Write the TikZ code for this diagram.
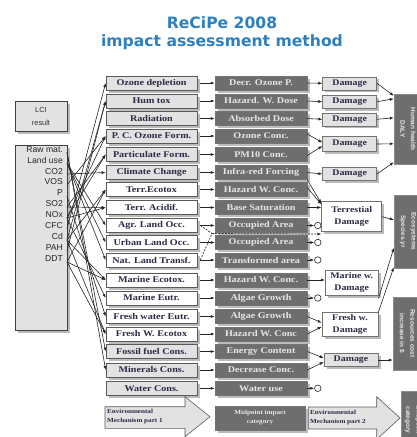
\documentclass[tikz,border=0pt]{standalone}
\usepackage{fontspec}
\setmainfont{Liberation Serif}
\setsansfont{Liberation Sans}
\newfontfamily\titlefont{DejaVu Sans}
\newfontfamily\catfont[FakeStretch=1.15]{Liberation Serif}
\usetikzlibrary{arrows.meta,shadows,calc}
\definecolor{catink}{HTML}{2C2A44}
\definecolor{midfill}{HTML}{6E6E6E}
\definecolor{midink}{HTML}{E6E6E6}
\definecolor{lightfill}{HTML}{E2E2E2}
\definecolor{titleblue}{HTML}{2E7FC2}
\definecolor{shade}{HTML}{BBBBBB}
\begin{document}
\begin{tikzpicture}[x=1pt,y=-1pt,
  arr/.style={-{Latex[length=4pt,width=3pt]}, line width=0.6pt, draw=black!85},
  shad/.style={drop shadow={shadow xshift=2.5pt, shadow yshift=-2.5pt, fill=shade, opacity=1}},
  catbox/.style={shad, draw=black!65, line width=0.7pt, minimum width=91pt, minimum height=14pt, inner sep=0pt,
    font=\catfont\bfseries\fontsize{8.8}{10}\selectfont, text=catink},
  greycat/.style={catbox, fill=lightfill},
  whitecat/.style={catbox, fill=white},
  midbox/.style={shad, draw=black!55, fill=midfill, line width=0.5pt, minimum width=92pt, minimum height=14pt, inner sep=0pt,
    font=\catfont\bfseries\fontsize{8.8}{10}\selectfont, text=midink},
  dambox/.style={shad, draw=black!55, line width=0.6pt, inner sep=0pt, align=center,
    font=\catfont\bfseries\fontsize{8.6}{11.5}\selectfont, text=catink},
  endbox/.style={draw=black!45, fill=midfill, line width=0.4pt, inner sep=0pt},
  endtext/.style={rotate=-90, align=center, text=midink, font=\sffamily\bfseries\fontsize{6.5}{10.5}\selectfont},
  lcibox/.style={shad, draw=black!75, fill=lightfill, line width=0.8pt, inner sep=0pt},
  ring/.style={circle, draw=black!85, fill=white, line width=0.6pt, minimum size=6.5pt, inner sep=0pt},
  bigarrow/.style={draw=black!65, fill=lightfill, line width=0.6pt},
  smalllabel/.style={align=left, inner sep=0pt, font=\catfont\bfseries\fontsize{6.2}{9}\selectfont, text=catink},
  landdash/.style={dashed, dash pattern=on 2pt off 1.2pt, line width=0.7pt, draw=black!80}
]
\useasboundingbox (0,0) rectangle (417,437);
\clip (0,0) rectangle (417,437);
\fill[white] (0,0) rectangle (417,437);

% title
\node[anchor=base, text=titleblue, font=\titlefont\bfseries\fontsize{15.6}{18}\selectfont] (t1) at (222,28.3) {ReCiPe 2008};
\node[anchor=base, text=titleblue, font=\titlefont\bfseries\fontsize{15.6}{18}\selectfont] (t2) at (222,46.5) {impact assessment method};

% LCI boxes
\node[lcibox, minimum width=52pt, minimum height=30pt, align=center, text=black!80,
  font=\sffamily\fontsize{7.4}{13}\selectfont] (lci) at (41,116) {LCI\\result};
\node[lcibox, minimum width=52pt, minimum height=185pt] (raw) at (41,237.5) {};
\node[anchor=north east, align=right, inner sep=0pt, text=black!85,
  font=\sffamily\fontsize{8.6}{10.95}\selectfont] (subs) at (63,146)
  {Raw mat.\\Land use\\CO2\\VOS\\P\\SO2\\NOx\\CFC\\Cd\\PAH\\DDT};
\foreach \n/\y in {raw/152, land/163, co2/174, vos/185, p/196, so2/207, nox/218, cfc/229, cd/240, pah/251, ddt/262}{
  \coordinate (s\n) at (67,\y);
}

% impact categories and midpoints
\foreach \i/\st/\lab/\mid/\y in {
  1/greycat/Ozone depletion/Decr. Ozone P./83,
  2/greycat/Hum tox/Hazard. W. Dose/101,
  3/greycat/Radiation/Absorbed Dose/118.5,
  4/greycat/P. C. Ozone Form./Ozone Conc./136,
  5/greycat/Particulate Form./PM10 Conc./154.5,
  6/greycat/Climate Change/Infra-red Forcing/172.5,
  7/whitecat/Terr.Ecotox/Hazard W. Conc./189.5,
  8/whitecat/Terr. Acidif./Base Saturation/207.5,
  9/whitecat/Agr. Land Occ./Occupied Area/225.5,
  10/whitecat/Urban Land Occ./Occupied Area/242.5,
  11/whitecat/Nat. Land Transf./Transformed area/260,
  12/whitecat/Marine Ecotox./Hazard W. Conc./280,
  13/whitecat/Marine Eutr./Algae Growth/298,
  14/whitecat/Fresh water Eutr./Algae Growth/316.5,
  15/whitecat/Fresh W. Ecotox/Hazard W. Conc/334,
  16/greycat/Fossil fuel Cons./Energy Content/351.5,
  17/greycat/Minerals Cons./Decrease Conc./370,
  18/greycat/Water Cons./Water use/388.3}{
  \node[\st] (c\i) at (151.5,\y) {\lab};
  \node[midbox] (m\i) at (261,\y) {\mid};
}
\foreach \i in {1,...,18}{
  \draw[arr] ([xshift=3pt]c\i.east) -- (m\i.west);
}

% raw material connectors
\foreach \s/\t in {cfc/c1, pah/c2, cd/c2, vos/c4, nox/c4, so2/c5, nox/c5, co2/c6, ddt/c7, cd/c7,
  so2/c8, nox/c8, land/c9, land/c10, land/c11, ddt/c12, cd/c12, nox/c13, p/c14, cd/c15, ddt/c15, raw/c16, raw/c17}{
  \draw[arr] (s\s) -- (\t.west);
}

% damage boxes
\node[dambox, fill=lightfill, minimum width=54pt, minimum height=13pt] (d1) at (349.7,83.3) {Damage};
\node[dambox, fill=lightfill, minimum width=54pt, minimum height=13pt] (d2) at (349.7,101.7) {Damage};
\node[dambox, fill=lightfill, minimum width=54pt, minimum height=13pt] (d3) at (349.7,119.3) {Damage};
\node[dambox, fill=lightfill, minimum width=54pt, minimum height=15pt] (d4) at (349.7,144) {Damage};
\node[dambox, fill=lightfill, minimum width=54pt, minimum height=13pt] (d5) at (349.7,174) {Damage};
\node[dambox, fill=white, minimum width=60pt, minimum height=30pt] (terr) at (351.7,216.7) {Terrestial\\Damage};
\node[dambox, fill=white, minimum width=53pt, minimum height=25pt] (mar) at (351.7,282.5) {Marine w.\\Damage};
\node[dambox, fill=white, minimum width=56pt, minimum height=24pt] (fresh) at (350,324.7) {Fresh w.\\Damage};
\node[dambox, fill=lightfill, minimum width=54pt, minimum height=13.5pt] (d6) at (351,360) {Damage};

% endpoint boxes
\node[endbox, minimum width=28pt, minimum height=70pt] (hh) at (408,129) {};
\node[endtext] (hht) at (hh.center) {Human health\\DALY};
\node[endbox, minimum width=28pt, minimum height=73pt] (eco) at (408,231.5) {};
\node[endtext] (ecot) at (eco.center) {Ecosystems\\Species.yr};
\node[endbox, minimum width=28pt, minimum height=73pt] (res) at (407,333.5) {};
\node[endtext] (rest) at (res.center) {Resources cost\\increase in \$};
\node[endbox, minimum width=24pt, minimum height=58pt] (endp) at (413,420) {};
\node[endtext] (endt) at (endp.center) {Endpoint\\category};

% midpoint -> damage
\draw[arr] (m1.east) -- (d1.west);
\draw[arr] (m2.east) -- (d2.west);
\draw[arr] (m3.east) -- (d3.west);
\draw[arr] ([yshift=2pt]m4.east) -- ([yshift=1.5pt]d4.west);
\draw[arr] ([yshift=-1pt]m5.east) -- ([yshift=-2pt]d4.west);
\draw[arr] (m6.east) -- (d5.west);
\draw[arr] (m6.south east) -- ([yshift=-2pt]terr.north west);
\draw[arr] ([yshift=2pt]m7.east) -- ([yshift=-3pt]terr.north west);
\draw[arr] (m8.east) -- (terr.west |- m8.east);
\draw[arr] (m12.east) -- (mar.west |- m12.east);
\draw[arr] (m14.east) -- ([yshift=2pt]fresh.west);
\draw[arr] (m15.east) -- ([yshift=-2pt]fresh.west);
\draw[arr] (m16.east) -- ([yshift=2pt]d6.west);
\draw[arr] (m17.east) -- ([yshift=-2pt]d6.west);
\foreach \i in {9,10,11,13,18}{
  \node[ring, anchor=west] (o\i) at ([xshift=7pt]m\i.east) {};
  \draw[arr] (m\i.east) -- (o\i.west);
}

% land use dashed links
\coordinate (lj) at (212,233.5);
\draw[landdash] ([xshift=3pt]c9.east) -- (lj);
\draw[landdash] ([xshift=3pt]c11.east) -- (lj);
\draw[landdash, -{Latex[length=4pt,width=3pt]}] (lj) -- ([yshift=-2pt]terr.south west);

% damage -> endpoints
\draw[arr] (d1.east) -- ([yshift=-2pt]hh.north west);
\draw[arr] (d2.east) -- ([yshift=-5pt]hh.north west);
\draw[arr] (d3.east) -- ([yshift=-24pt]hh.north west);
\draw[arr] (d4.east) -- ([yshift=-50pt]hh.north west);
\draw[arr] (d5.east) -- ([yshift=2pt]hh.south west);
\draw[arr] (terr.east) -- ([yshift=-25pt]eco.north west);
\draw[arr] ([yshift=-3pt]mar.south east) -- ([yshift=-53pt]eco.north west);
\draw[arr] (fresh.north east) -- ([yshift=1pt]eco.south west);
\draw[arr] (d6.east) -- (res.west |- d6.east);

% bottom legend
\draw[bigarrow] (105,406.7) -- (185,406.7) -- (185,396.7) -- (210,416.7) -- (185,436.7) -- (185,428.3) -- (105,428.3) -- cycle;
\node[smalllabel, anchor=west] (env1) at (107,417) {Environmental\\Mechanism part 1};
\node[midbox, minimum width=90pt, minimum height=24pt, align=center, font=\catfont\bfseries\fontsize{6.2}{9}\selectfont] (midp) at (260,418) {Midpoint impact\\category};
\draw[bigarrow] (308.3,407) -- (376.7,407) -- (376.7,396.7) -- (400,418) -- (376.7,439.3) -- (376.7,429) -- (308.3,429) -- cycle;
\node[smalllabel, anchor=west] (env2) at (310,418) {Environmental\\Mechanism part 2};
\end{tikzpicture}
\end{document}
